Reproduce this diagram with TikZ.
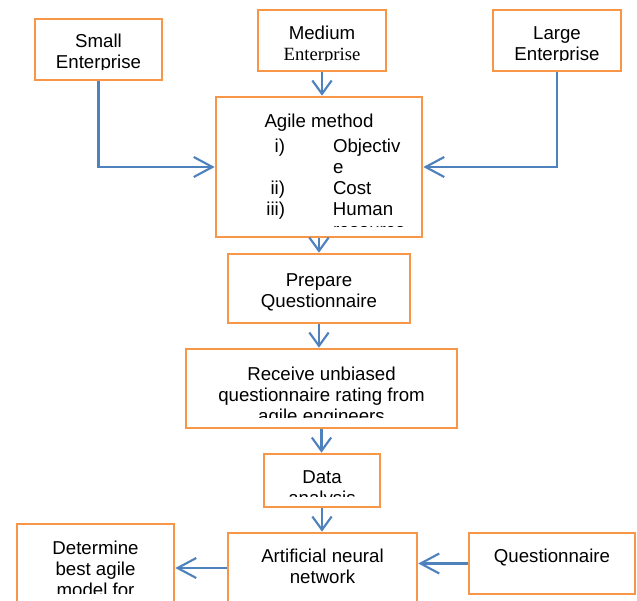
\documentclass[tikz,border=0pt]{standalone}
\usepackage{fontspec}
\setmainfont{Liberation Sans}
\newfontfamily\timesfont{Liberation Serif}
\usetikzlibrary{arrows.meta}
\definecolor{boxorange}{HTML}{F79646}
\definecolor{flowblue}{HTML}{4F81BD}
\begin{document}
\begin{tikzpicture}[x=0.75pt, y=-0.75pt, line join=miter, >={Straight Barb[length=10pt,width=14.5pt]}]
	\tikzset{
	sz/.style 2 args={minimum width=#1*0.75pt, minimum height=#2*0.75pt},
	txt/.style={font=\fontsize{14}{15.75}\selectfont, align=center, inner sep=0pt, anchor=north, minimum width=0pt, minimum height=0pt},
	tbox/.style 2 args={draw=boxorange, line width=2pt, inner sep=0pt, path picture={
	\clip (path picture bounding box.north west) rectangle ([yshift=8pt]path picture bounding box.south east);
	\node[txt] at ([yshift=-#1*0.75pt]path picture bounding box.north) {#2};
	}},
	flow/.style={draw=flowblue, line width=1.6pt, ->},
	flowh/.style={flow, -{Straight Barb[length=14pt,width=15pt]}}
	}
	\useasboundingbox (0,0) rectangle (637,601);
	\node[tbox={14}{Small\\Enterprise}, sz={127}{61}] (small) at (98.5,49.5) {};
	\node[tbox={15}{Medium\\{\timesfont Enterprise}}, sz={128}{61}] (medium) at (322,40.5) {};
	\node[tbox={15}{Large\\Enterprise}, sz={128}{61}] (large) at (557,40.5) {};
	\node[tbox={16}{Agile method\\[3pt]\begin{tabular}[t]{@{\hspace{25.5pt}}r@{\hspace{36pt}}l@{}}
	i) & Objectiv\\ & e\\ ii) & Cost\\ iii) & Human\\ & resource\end{tabular}}, sz={206}{140}] (agile) at (319,167) {};
	\node[tbox={18}{Prepare\\Questionnaire}, sz={182}{69}] (prepare) at (319,288.5) {};
	\node[tbox={17}{Receive unbiased\\questionnaire rating from\\agile engineers}, sz={271}{79}] (receive) at (321.5,388.5) {};
	\node[tbox={15}{Data\\analysis}, sz={116}{53}] (data) at (322,480.5) {};
	\node[tbox={15}{Artificial neural\\network}, sz={189}{70}] (ann) at (322.5,568) {};
	\node[tbox={16}{Determine\\best agile\\model for}, sz={157}{80}] (best) at (95.5,564) {};
	\node[tbox={15}{Questionnaire}, sz={166}{61}] (quest) at (552,563.5) {};
	\draw[flowh] (small.south) |- (agile.west);
	\draw[flowh] (large.south) |- (agile.east);
	\draw[flow] (medium.south) -- (medium.south |- agile.north);
	\draw[flow] (agile.south) -- (prepare.north);
	\draw[flow] (prepare.south) -- (prepare.south |- receive.north);
	\draw[flow] (receive.south) -- (receive.south |- data.north);
	\draw[flow] (data.south) -- (data.south |- ann.north);
	\draw[flowh] (ann.west) -- (ann.west -| best.east);
	\draw[flowh] (quest.west) -- (quest.west -| ann.east);
\end{tikzpicture}
\end{document}
